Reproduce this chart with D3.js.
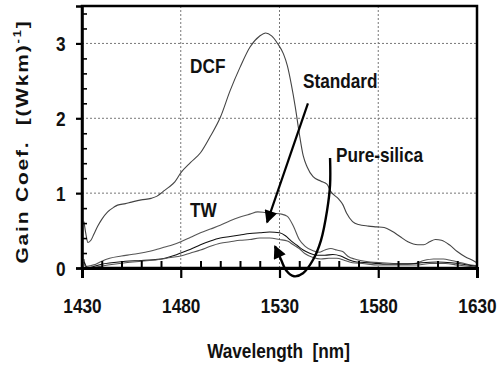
<!DOCTYPE html>
<html>
<head>
<meta charset="utf-8">
<style>
  body { margin: 0; background: #fff; }
  svg text { font-family: "Liberation Sans", Arial, sans-serif; font-weight: bold; fill: #111; }
</style>
</head>
<body>
<svg width="497" height="368"></svg>
<script src="https://d3js.org/d3.v7.min.js"></script>
<script>
// tick values
const xTicks = [1430, 1480, 1530, 1580, 1630];
const yTicks = [0, 1, 2, 3];
const xGrid = [1480, 1530, 1580];
const yGrid = [1, 2, 3];

// curves: [wavelength nm, gain]
const dcf = [[1431,0.62],[1432,0.45],[1433,0.34],[1434.5,0.37],[1436,0.45],[1438,0.56],[1440,0.65],[1443,0.75],
  [1446,0.81],[1448,0.84],[1452,0.86],[1455,0.88],[1460,0.91],[1465,0.93],[1468,0.96],[1471,1.02],[1474,1.08],
  [1477,1.15],[1480,1.27],[1485,1.41],[1490,1.54],[1495,1.76],[1500,2.01],[1505,2.37],[1510,2.68],[1515,2.95],
  [1520,3.1],[1523,3.14],[1526,3.1],[1529,3.0],[1532,2.86],[1534,2.7],[1536,2.45],[1538,2.15],[1540,1.8],
  [1542,1.5],[1544,1.35],[1547,1.22],[1551,1.16],[1554,1.12],[1556,1.02],[1560,0.92],[1562,0.85],[1564,0.73],
  [1567,0.62],[1570,0.58],[1575,0.56],[1579,0.55],[1583,0.54],[1587,0.49],[1591,0.42],[1595,0.35],[1600,0.31],
  [1603,0.31],[1606,0.35],[1609,0.38],[1612,0.37],[1616,0.31],[1620,0.22],[1624,0.15],[1628,0.1],[1630,0.07]];

const tw = [[1431,0.12],[1432,0.02],[1434,0.03],[1437,0.05],[1440,0.09],[1444,0.13],[1450,0.16],[1455,0.18],
  [1462,0.21],[1468,0.25],[1472,0.28],[1476,0.31],[1480,0.35],[1485,0.41],[1490,0.47],[1495,0.52],[1500,0.57],
  [1505,0.63],[1510,0.68],[1515,0.72],[1519,0.75],[1523,0.74],[1527,0.73],[1531,0.72],[1534,0.69],[1537,0.56],
  [1540,0.38],[1543,0.29],[1547,0.23],[1550,0.21],[1553,0.24],[1556,0.26],[1559,0.24],[1562,0.22],[1565,0.15],
  [1568,0.12],[1571,0.1],[1576,0.08],[1582,0.07],[1590,0.06],[1598,0.06],[1603,0.1],[1608,0.12],[1613,0.12],
  [1617,0.1],[1622,0.07],[1627,0.04],[1630,0.03]];

const standard = [[1431,0.08],[1433,0.0],[1436,0.02],[1440,0.05],[1445,0.07],[1452,0.09],[1460,0.1],[1466,0.11],
  [1472,0.13],[1477,0.17],[1480,0.2],[1485,0.25],[1490,0.31],[1495,0.36],[1500,0.4],[1505,0.42],[1510,0.44],
  [1515,0.46],[1520,0.47],[1525,0.48],[1530,0.47],[1533,0.43],[1536,0.36],[1539,0.3],[1542,0.24],[1545,0.2],
  [1549,0.17],[1553,0.17],[1557,0.18],[1561,0.16],[1565,0.11],[1569,0.08],[1575,0.07],[1585,0.05],[1595,0.05],
  [1602,0.07],[1610,0.08],[1617,0.07],[1623,0.05],[1630,0.02]];

const pureSilica = [[1431,0.05],[1433,0.0],[1437,0.01],[1441,0.03],[1446,0.05],[1452,0.07],[1460,0.09],[1468,0.11],
  [1475,0.14],[1480,0.16],[1485,0.2],[1490,0.24],[1495,0.29],[1500,0.33],[1505,0.35],[1510,0.37],[1515,0.38],
  [1520,0.4],[1525,0.4],[1530,0.38],[1534,0.36],[1537,0.31],[1540,0.26],[1543,0.19],[1547,0.14],[1551,0.12],
  [1555,0.13],[1559,0.13],[1563,0.1],[1567,0.07],[1572,0.06],[1580,0.04],[1590,0.04],[1600,0.04],[1606,0.06],
  [1614,0.06],[1620,0.04],[1630,0.01]];

// annotation arrows (data coords)
const standardArrow = [[1544.4,2.2],[1523.7,0.61]];
const silicaArrow = [[1555.6,1.47],[1555.6,1.11],[1554.1,0.77],[1551,0.37],[1547,0.11],[1541.9,-0.07],
  [1537.3,-0.11],[1533.3,-0.03],[1530.8,0.11],[1527.7,0.29]];

// curve labels
const labels = [
  {text: "DCF", x: 1484.7, y: 2.6},
  {text: "Standard", x: 1541.9, y: 2.4},
  {text: "Pure-silica", x: 1558.6, y: 1.41},
  {text: "TW", x: 1484.7, y: 0.68}
];

const svg = d3.select("svg"),
      margin = {top: 6, right: 20, bottom: 100, left: 82},
      width = +svg.attr("width"),
      height = +svg.attr("height");

const x = d3.scaleLinear().domain([1430, 1630]).range([margin.left, width - margin.right]);
const y = d3.scaleLinear().domain([0, 3.5]).range([height - margin.bottom, margin.top]);

const squash = "scale(0.82,1)";

// dotted grid
svg.append("g").selectAll("line").data(xGrid).join("line")
  .attr("x1", d => x(d)).attr("x2", d => x(d))
  .attr("y1", y(3.5)).attr("y2", y(0))
  .attr("stroke", "#777").attr("stroke-dasharray", "2,2");
svg.append("g").selectAll("line").data(yGrid).join("line")
  .attr("x1", x(1430)).attr("x2", x(1630))
  .attr("y1", d => y(d)).attr("y2", d => y(d))
  .attr("stroke", "#777").attr("stroke-dasharray", "2,2");

// curves
const line = d3.line().x(d => x(d[0])).y(d => y(d[1])).curve(d3.curveMonotoneX);
const series = [
  {data: dcf, color: "#444"},
  {data: tw, color: "#555"},
  {data: standard, color: "#111"},
  {data: pureSilica, color: "#555"}
];
svg.append("g").selectAll("path").data(series).join("path")
  .attr("d", d => line(d.data))
  .attr("fill", "none")
  .attr("stroke", d => d.color)
  .attr("stroke-width", 1.1);

// minor ticks (point inward)
const xMinor = d3.range(1440, 1630, 10).filter(v => !xTicks.includes(v));
const yMinor = d3.range(0.2, 3.5, 0.2).map(v => +v.toFixed(1)).filter(v => !yTicks.includes(v));

svg.append("g")
  .attr("transform", `translate(0,${y(0)})`)
  .call(d3.axisBottom(x).tickValues(xMinor).tickSize(-7).tickFormat(""))
  .call(g => g.select(".domain").remove())
  .selectAll("line").attr("stroke-width", 2);

svg.append("g")
  .attr("transform", `translate(${x(1430)},0)`)
  .call(d3.axisLeft(y).tickValues(yMinor).tickSize(-5).tickFormat(""))
  .call(g => g.select(".domain").remove())
  .selectAll("line").attr("stroke-width", 1.6);

// frame
svg.append("rect")
  .attr("x", x(1430)).attr("y", y(3.5))
  .attr("width", x(1630) - x(1430)).attr("height", y(0) - y(3.5))
  .attr("fill", "none").attr("stroke", "#000").attr("stroke-width", 2.5);

// major axes
const xAxis = svg.append("g")
  .attr("transform", `translate(0,${y(0)})`)
  .call(d3.axisBottom(x).tickValues(xTicks).tickSize(10).tickPadding(20).tickFormat(d3.format("d")));
xAxis.select(".domain").attr("stroke-width", 3);
xAxis.selectAll("line").attr("stroke-width", 2.2);
xAxis.selectAll("text").attr("font-size", 21).attr("transform", squash).style("font-family", "'Liberation Sans', Arial, sans-serif");

const yAxis = svg.append("g")
  .attr("transform", `translate(${x(1430)},0)`)
  .call(d3.axisLeft(y).tickValues(yTicks).tickSize(6).tickFormat(d3.format("d")));
yAxis.select(".domain").attr("stroke-width", 2.5);
yAxis.selectAll("line").attr("stroke-width", 2.2);
yAxis.selectAll("text").attr("font-size", 21).attr("x", -20).attr("dy", "0.36em")
  .attr("transform", squash).style("font-family", "'Liberation Sans', Arial, sans-serif");

// arrows
const defs = svg.append("defs");
defs.append("marker")
  .attr("id", "head")
  .attr("viewBox", "0 0 10 10")
  .attr("refX", 9).attr("refY", 5)
  .attr("markerUnits", "userSpaceOnUse")
  .attr("markerWidth", 20).attr("markerHeight", 13)
  .attr("orient", "auto")
  .append("path").attr("d", "M0,0L10,5L0,10z").attr("fill", "#000");

const arrowLine = d3.line().x(d => x(d[0])).y(d => y(d[1]));
svg.append("path")
  .attr("d", arrowLine(standardArrow))
  .attr("fill", "none").attr("stroke", "#000").attr("stroke-width", 2.2)
  .attr("marker-end", "url(#head)");
svg.append("path")
  .attr("d", arrowLine.curve(d3.curveCatmullRom)(silicaArrow))
  .attr("fill", "none").attr("stroke", "#000").attr("stroke-width", 2.4)
  .attr("marker-end", "url(#head)");

// curve labels
svg.append("g").selectAll("text").data(labels).join("text")
  .attr("transform", d => `translate(${x(d.x)},${y(d.y)}) ${squash}`)
  .attr("font-size", 21)
  .text(d => d.text);

// axis titles
svg.append("text")
  .attr("transform", `translate(${(x(1430) + x(1630)) / 2 - 1},${height - 10}) ${squash}`)
  .attr("text-anchor", "middle")
  .attr("font-size", 21)
  .style("white-space", "pre")
  .text("Wavelength  [nm]");

const yTitle = svg.append("text")
  .attr("transform", `translate(28,${(y(0) + 15) / 2}) rotate(-90) scale(1,0.82)`)
  .attr("text-anchor", "middle")
  .attr("font-size", 21)
  .attr("letter-spacing", 1.8)
  .style("white-space", "pre");
yTitle.append("tspan").text("Gain Coef.  [(Wkm)");
yTitle.append("tspan").attr("font-size", 13).attr("dy", -9).text("-1");
yTitle.append("tspan").attr("dy", 9).text("]");
</script>
</body>
</html>
